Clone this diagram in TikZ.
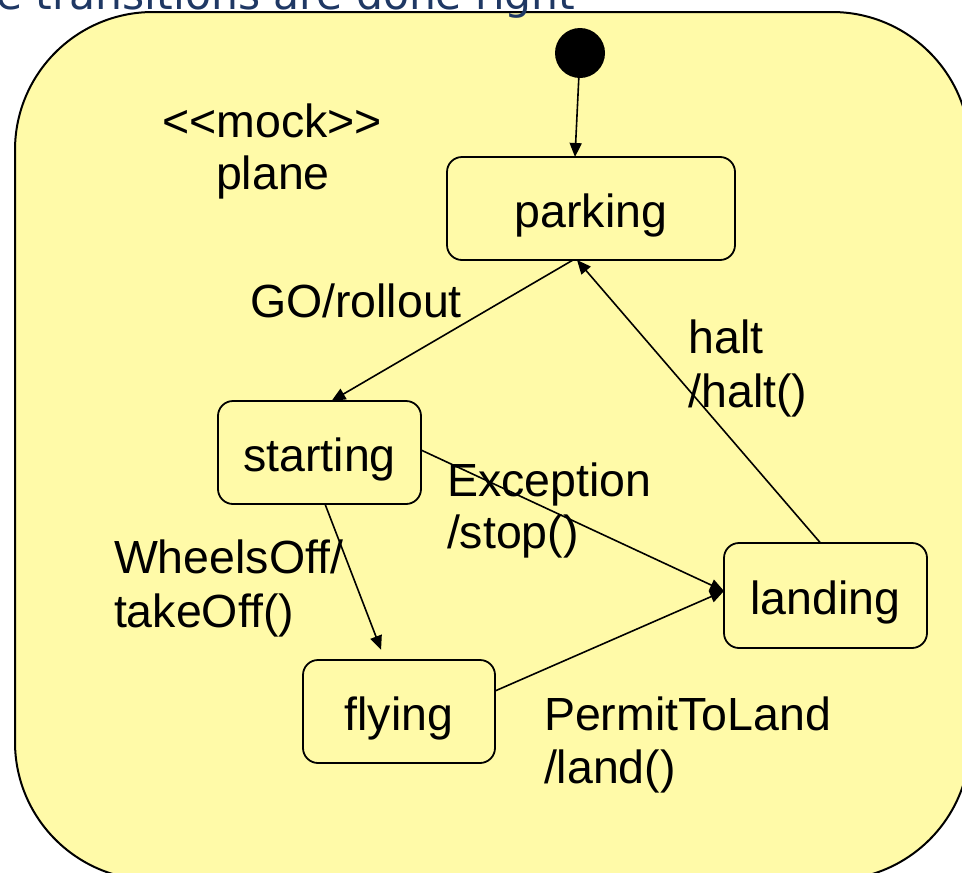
\documentclass[tikz,border=0pt]{standalone}
\usepackage{fontspec}
\setmainfont{Liberation Sans}
\newfontfamily\titlefont{DejaVu Sans}
\usetikzlibrary{arrows.meta}
\definecolor{stateyellow}{HTML}{FFFAA8}
\definecolor{titleblue}{RGB}{31,56,100}
\begin{document}
\begin{tikzpicture}[x=1pt,y=-1pt,
  every node/.style={inner sep=0pt, outer sep=0pt},
  txt/.style={font=\fontsize{46.5}{54}\selectfont},
  statebox/.style={draw=black, line width=1.8pt, rounded corners=15pt, fill=stateyellow, txt, text height=40pt, text depth=2pt},
  trans/.style={line width=1.6pt, -{Triangle[length=14pt,width=12pt]}},
  lbl/.style={txt, anchor=base west},
  clbl/.style={txt, anchor=base}]
\useasboundingbox (0,0) rectangle (962,873);
\clip (0,0) rectangle (962,873);
\draw[line width=2pt, fill=stateyellow, rounded corners=138pt] (15,12) rectangle (970,880);

\node[circle, fill=black, minimum size=50pt] (init) at (580,53) {};
\node[statebox, minimum width=288pt, minimum height=103pt] (parking) at (591,208.5) {parking};
\node[statebox, minimum width=203pt, minimum height=103pt] (starting) at (319.5,452.5) {starting};
\node[statebox, minimum width=203pt, minimum height=105pt] (landing) at (825.5,595.5) {landing};
\node[statebox, minimum width=192pt, minimum height=103pt] (flying) at (399,711.5) {flying};

\node[clbl] (mock) at (272,137) {<\kern0pt<mock>\kern0pt>};
\node[clbl] (plane) at (273,189) {plane};
\node[lbl] (go) at (250,317) {GO/rollout};
\node[lbl] (halt1) at (688.5,353) {halt};
\node[lbl] (halt2) at (688.5,407) {/halt()};
\node[lbl] (exc1) at (447,496) {Exception};
\node[lbl] (exc2) at (447,548) {/stop()};
\node[lbl] (wh1) at (114,573) {WheelsOff/};
\node[lbl] (wh2) at (114,627) {takeOff()};
\node[lbl] (pl1) at (544,730) {PermitToLand};
\node[lbl] (pl2) at (544,783) {/land()};

\draw[trans] (init) -- ([xshift=-16pt]parking.north);
\draw[trans] ([xshift=-18pt]parking.south) -- ([xshift=12pt]starting.north);
\draw[trans] ([xshift=-5pt]landing.north) -- ([xshift=-14pt]parking.south);
\draw[trans] ([yshift=2.5pt]starting.east) -- ([yshift=4.5pt]landing.west);
\draw[trans] ([yshift=20.5pt]flying.east) -- ([yshift=4.5pt]landing.west);
\draw[trans, shorten >=11pt] ([xshift=5.5pt]starting.south) -- ([xshift=-14pt]flying.north);

\node[anchor=base west, font=\titlefont\fontsize{42.5}{50}\selectfont, text=titleblue] (title) at (-4,9) {e transitions are done right};
\end{tikzpicture}
\end{document}
